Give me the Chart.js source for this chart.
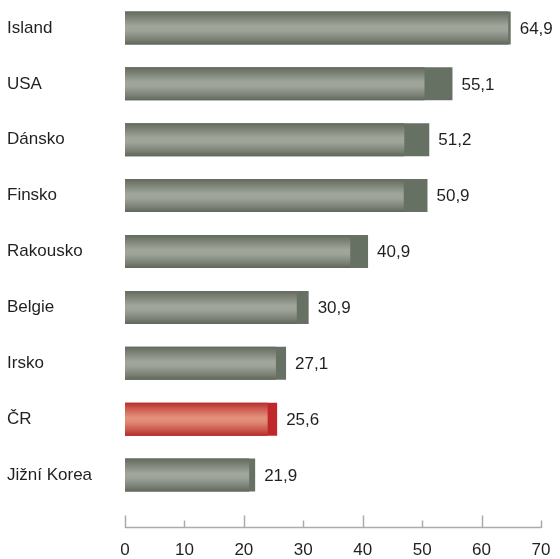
<!DOCTYPE html>
<html lang="cs">
<head>
<meta charset="utf-8">
<title>Graf</title>
<script src="https://cdn.jsdelivr.net/npm/chart.js@4.4.1/dist/chart.umd.min.js"></script>
<style>
      html, body { margin: 0; padding: 0; background: #ffffff; }
      #chart_box { width: 560px; height: 559px; position: relative; }
</style>
</head>
<body>
<div id="chart_box"><canvas id="country_chart"></canvas></div>
<script>
const countries = ['Island', 'USA', 'Dánsko', 'Finsko', 'Rakousko', 'Belgie', 'Irsko', 'ČR', 'Jižní Korea'];
const totalValues = [64.9, 55.1, 51.2, 50.9, 40.9, 30.9, 27.1, 25.6, 21.9];
const innerValues = [64.5, 50.4, 47.0, 46.9, 37.9, 28.9, 25.4, 24.0, 20.9];
const xTicks = [0, 10, 20, 30, 40, 50, 60, 70];
const highlight = 'ČR';

const FONT = '"Liberation Sans", Arial, Helvetica, sans-serif';
const TEXT_COLOR = '#231f20';
const BAR_PERCENT = 0.59;

function stripeGradient(ctx, red)
{
      const chart = ctx.chart;
      const yScale = chart.scales.y;
      if (!yScale || !chart.chartArea) return red ? '#d46a5c' : '#8d9488';

      const band = (yScale.bottom - yScale.top) / countries.length;
      const center = yScale.getPixelForValue(ctx.dataIndex);
      const half = band * BAR_PERCENT / 2;
      const g = chart.ctx.createLinearGradient(0, center - half, 0, center + half);

      if (red)
      {
            g.addColorStop(0, '#b52f30');
            g.addColorStop(0.18, '#cc5a4e');
            g.addColorStop(0.45, '#e3917b');
            g.addColorStop(0.58, '#e08a76');
            g.addColorStop(0.85, '#c95248');
            g.addColorStop(1, '#b32a2c');
      }
      else
      {
            g.addColorStop(0, '#646b5e');
            g.addColorStop(0.18, '#7c8376');
            g.addColorStop(0.45, '#a0a69b');
            g.addColorStop(0.58, '#9ea499');
            g.addColorStop(0.85, '#7a8074');
            g.addColorStop(1, '#5f665a');
      }
      return g;
}

// axis line with upward tick marks, placed below the bars
const bottomAxis = {
      id: 'bottomAxis',
      afterDraw(chart)
      {
            const ctx = chart.ctx;
            const x = chart.scales.x;
            const yLine = 527.5;

            ctx.save();
            ctx.strokeStyle = '#a9abad';
            ctx.lineWidth = 1.5;
            ctx.beginPath();
            ctx.moveTo(x.getPixelForValue(0), yLine);
            ctx.lineTo(x.getPixelForValue(70), yLine);
            for (let i = 0; i < xTicks.length; i++)
            {
                  const px = Math.round(x.getPixelForValue(xTicks[i])) + 0.5;
                  const len = xTicks[i] % 20 === 0 ? 12 : 7;
                  ctx.moveTo(px, yLine + 0.5);
                  ctx.lineTo(px, yLine - len);
            }
            ctx.stroke();
            ctx.restore();
      }
};

// value written right after each bar end
const valueLabels = {
      id: 'valueLabels',
      afterDatasetsDraw(chart)
      {
            const ctx = chart.ctx;
            const meta = chart.getDatasetMeta(1);

            ctx.save();
            ctx.font = '17px ' + FONT;
            ctx.fillStyle = TEXT_COLOR;
            ctx.textAlign = 'left';
            ctx.textBaseline = 'middle';
            for (let i = 0; i < meta.data.length; i++)
            {
                  const bar = meta.data[i];
                  ctx.fillText(totalValues[i].toFixed(1).replace('.', ','), bar.x + 9, bar.y + 1);
            }
            ctx.restore();
      }
};

const config = {
      type: 'bar',
      data: {
            labels: countries,
            datasets: [
                  {
                        label: 'inner',
                        data: innerValues,
                        backgroundColor: (ctx) => stripeGradient(ctx, countries[ctx.dataIndex] === highlight),
                        borderWidth: 0,
                        grouped: false,
                        barPercentage: BAR_PERCENT,
                        categoryPercentage: 1
                  },
                  {
                        label: 'total',
                        data: totalValues,
                        backgroundColor: countries.map(c => c === highlight ? '#bf272b' : '#667063'),
                        borderWidth: 0,
                        grouped: false,
                        barPercentage: BAR_PERCENT,
                        categoryPercentage: 1
                  }
            ]
      },
      options: {
            indexAxis: 'y',
            responsive: true,
            maintainAspectRatio: false,
            animation: false,
            layout: {
                  padding: { top: -2, left: 7, right: 19, bottom: 0 }
            },
            scales: {
                  x: {
                        min: 0,
                        max: 70,
                        grid: { display: false, drawTicks: false },
                        border: { display: false },
                        afterFit: (scale) =>
                        {
                              scale.height = 56;
                              // the big label padding should not eat into the plot width
                              scale.paddingLeft = 0;
                              scale.paddingRight = 0;
                        },
                        ticks: {
                              stepSize: 10,
                              padding: 37,
                              color: TEXT_COLOR,
                              font: { family: FONT, size: 17 },
                              maxRotation: 0,
                              autoSkip: false
                        }
                  },
                  y: {
                        grid: { display: false, drawTicks: false },
                        border: { display: false },
                        afterFit: (scale) =>
                        {
                              scale.width = 118;
                              scale.paddingTop = 0;
                              scale.paddingBottom = 0;
                        },
                        ticks: {
                              crossAlign: 'far',
                              padding: 0,
                              color: TEXT_COLOR,
                              font: { family: FONT, size: 17 }
                        }
                  }
            },
            plugins: {
                  legend: { display: false },
                  tooltip: { enabled: false }
            }
      },
      plugins: [bottomAxis, valueLabels]
};

new Chart(document.getElementById('country_chart'), config);
</script>
</body>
</html>
